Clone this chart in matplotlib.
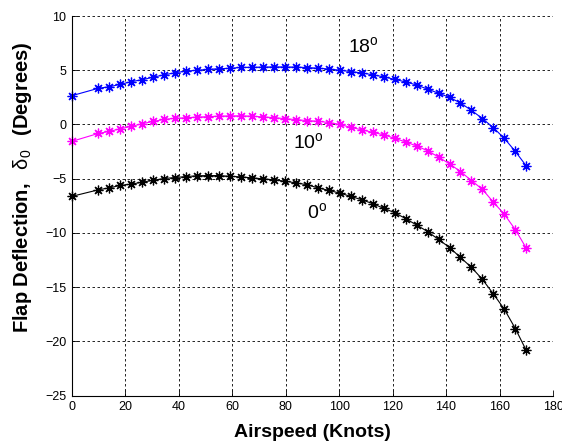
import matplotlib
matplotlib.use("Agg")
import matplotlib.pyplot as plt

plt.rcParams['font.family'] = ['Liberation Sans', 'DejaVu Sans']
plt.rcParams['mathtext.fontset'] = 'custom'
plt.rcParams['mathtext.rm'] = 'Liberation Sans'
plt.rcParams['mathtext.it'] = 'Liberation Sans'
plt.rcParams['mathtext.bf'] = 'Liberation Sans:bold'

# Airspeed (knots)
airspeed = [0.0, 10.0, 14.1, 18.2, 22.3, 26.4, 30.5, 34.6, 38.7, 42.8, 46.9,
            51.0, 55.1, 59.2, 63.3, 67.4, 71.5, 75.6, 79.7, 83.8, 87.9,
            92.1, 96.2, 100.3, 104.4, 108.5, 112.6, 116.7, 120.8, 124.9, 129.0,
            133.1, 137.2, 141.3, 145.4, 149.5, 153.6, 157.7, 161.8, 165.9, 170.0]

# Flap deflection (degrees) for each flap setting
flap_18 = [2.65, 3.34, 3.48, 3.70, 3.95, 4.13, 4.36, 4.58, 4.77, 4.92, 5.00,
           5.08, 5.14, 5.18, 5.26, 5.27, 5.29, 5.31, 5.30, 5.29, 5.25,
           5.19, 5.11, 5.00, 4.88, 4.75, 4.58, 4.39, 4.16, 3.92, 3.64,
           3.26, 2.88, 2.50, 1.98, 1.30, 0.55, -0.30, -1.28, -2.48, -3.82]
flap_10 = [-1.56, -0.82, -0.64, -0.39, -0.18, 0.08, 0.28, 0.47, 0.57, 0.62, 0.68,
           0.72, 0.77, 0.79, 0.80, 0.76, 0.70, 0.63, 0.54, 0.45, 0.36,
           0.30, 0.18, 0.00, -0.27, -0.49, -0.73, -0.95, -1.28, -1.61, -1.98,
           -2.42, -3.00, -3.63, -4.34, -5.17, -5.98, -7.16, -8.28, -9.69, -11.40]
flap_0 = [-6.63, -6.02, -5.84, -5.62, -5.50, -5.32, -5.14, -4.98, -4.89, -4.80, -4.73,
          -4.71, -4.71, -4.78, -4.83, -4.92, -5.01, -5.10, -5.23, -5.38, -5.55,
          -5.84, -6.08, -6.33, -6.63, -6.94, -7.30, -7.73, -8.13, -8.68, -9.27,
          -9.87, -10.60, -11.34, -12.26, -13.17, -14.28, -15.62, -17.03, -18.81, -20.83]

series = [(flap_18, '#0000FF'), (flap_10, '#FF00FF'), (flap_0, '#000000')]
curve_labels = [(r'18$^{\mathregular{o}}$', 103.5, 7.2),
                (r'10$^{\mathregular{o}}$', 82.8, -1.6),
                (r'0$^{\mathregular{o}}$', 88.0, -8.05)]

xticks = [0, 20, 40, 60, 80, 100, 120, 140, 160, 180]
yticks = [-25, -20, -15, -10, -5, 0, 5, 10]

fig = plt.figure(figsize=(5.62, 4.47), dpi=100)
ax = fig.add_axes([0.1276, 0.1148, 0.984 - 0.1276, 0.9642 - 0.1148])

asterisk = (8, 2, 0)
for vals, col in series:
    ax.plot(airspeed, vals, color=col, lw=0.8, marker=asterisk,
            ms=7, mew=0.9, mec=col, clip_on=False)

for txt, x, y in curve_labels:
    ax.text(x, y, txt, fontsize=14, va='center', ha='left')

ax.set_xlim(0, 180)
ax.set_ylim(-25, 10)
ax.set_xticks(xticks)
ax.set_yticks(yticks)
ax.tick_params(direction='in', length=4, width=0.6, labelsize=9, pad=4)
ax.grid(True, color='black', linestyle=(0, (3, 3)), linewidth=0.6)
ax.spines['top'].set_visible(False)
ax.spines['right'].set_visible(False)
ax.spines['left'].set_linewidth(0.8)
ax.spines['bottom'].set_linewidth(0.8)

ax.set_xlabel('Airspeed (Knots)', fontsize=14, fontweight='bold')
ax.set_ylabel(r'Flap Deflection,  $\mathrm{\,\delta_{0}\,}$  (Degrees)', fontsize=14.5,
              fontweight='bold')
ax.xaxis.set_label_coords(0.5, -0.075)
ax.yaxis.set_label_coords(-0.078, 0.55)

fig.savefig('out.png', dpi=100)
